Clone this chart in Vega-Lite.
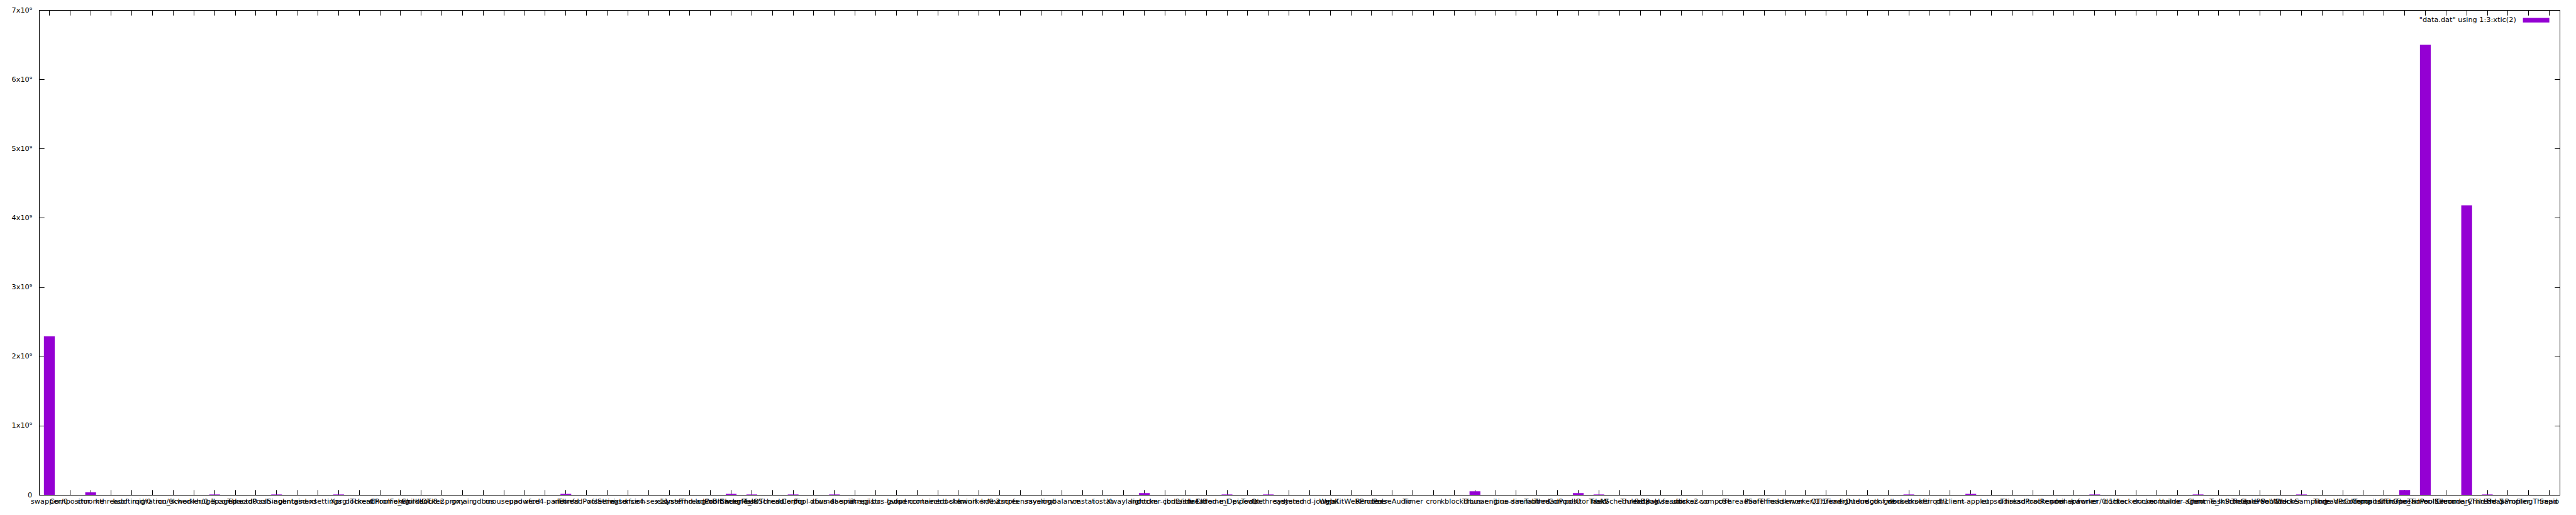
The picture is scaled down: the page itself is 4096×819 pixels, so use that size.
{
  "$schema": "https://vega.github.io/schema/vega-lite/v6.json",
  "width": 4008,
  "height": 771,
  "autosize": {"type": "none"},
  "padding": {"left": 62, "top": 16, "right": 26, "bottom": 32},
  "background": "white",
  "config": {
    "font": "DejaVu Sans",
    "view": {"stroke": "black", "strokeWidth": 1},
    "axis": {"grid": false, "domain": false, "tickColor": "black", "tickWidth": 1, "labelColor": "black", "labelFontSize": 11.3, "labelFont": "DejaVu Sans", "title": null}
  },
  "data": {
    "values": [
      {"idx": 1, "name": "swapper/0", "value": 2290000000},
      {"idx": 2, "name": "Compositor", "value": 0},
      {"idx": 3, "name": "chrome", "value": 37000000},
      {"idx": 4, "name": "kthreadd", "value": 0},
      {"idx": 5, "name": "ksoftirqd/0", "value": 0},
      {"idx": 6, "name": "migration/0", "value": 0},
      {"idx": 7, "name": "rcu_sched", "value": 0},
      {"idx": 8, "name": "kworker/0:1", "value": 0},
      {"idx": 9, "name": "khugepaged", "value": 6000000},
      {"idx": 10, "name": "kcompactd0", "value": 0},
      {"idx": 11, "name": "ThreadPoolSingl", "value": 0},
      {"idx": 12, "name": "ssh-agent", "value": 6000000},
      {"idx": 13, "name": "containerd", "value": 0},
      {"idx": 14, "name": "gsd-xsettings", "value": 0},
      {"idx": 15, "name": "Xorg", "value": 6000000},
      {"idx": 16, "name": "dockerd", "value": 0},
      {"idx": 17, "name": "ThreadPoolForeg", "value": 0},
      {"idx": 18, "name": "Chrome_ChildIOT", "value": 0},
      {"idx": 19, "name": "kworker/u8:2", "value": 0},
      {"idx": 20, "name": "docker-proxy", "value": 0},
      {"idx": 21, "name": "gmain", "value": 0},
      {"idx": 22, "name": "gdbus", "value": 0},
      {"idx": 23, "name": "mousepad", "value": 0},
      {"idx": 24, "name": "upowerd", "value": 0},
      {"idx": 25, "name": "xfce4-panel", "value": 0},
      {"idx": 26, "name": "xfconfd", "value": 15000000},
      {"idx": 27, "name": "ThreadPoolServi", "value": 0},
      {"idx": 28, "name": "xfsettingsd", "value": 0},
      {"idx": 29, "name": "extension", "value": 0},
      {"idx": 30, "name": "xfce4-session", "value": 0},
      {"idx": 31, "name": "x11-ssh", "value": 0},
      {"idx": 32, "name": "systemd-logind", "value": 0},
      {"idx": 33, "name": "ThreadPoolBackg", "value": 0},
      {"idx": 34, "name": "CrBrowserMain", "value": 15000000},
      {"idx": 35, "name": "Chrome_IOThread", "value": 6000000},
      {"idx": 36, "name": "TaskSchedulerFo", "value": 0},
      {"idx": 37, "name": "Config", "value": 6000000},
      {"idx": 38, "name": "pool-xfwm4", "value": 0},
      {"idx": 39, "name": "dbus-daemon", "value": 6000000},
      {"idx": 40, "name": "at-spi2-registr", "value": 0},
      {"idx": 41, "name": "at-spi-bus-laun", "value": 0},
      {"idx": 42, "name": "gvfsd", "value": 0},
      {"idx": 43, "name": "openconnect", "value": 0},
      {"idx": 44, "name": "containerd-shim", "value": 0},
      {"idx": 45, "name": "docker-init", "value": 0},
      {"idx": 46, "name": "kworker/0:2", "value": 0},
      {"idx": 47, "name": "kdevtmpfs", "value": 0},
      {"idx": 48, "name": "xscreensaver", "value": 0},
      {"idx": 49, "name": "rsyslogd", "value": 0},
      {"idx": 50, "name": "irqbalance", "value": 0},
      {"idx": 51, "name": "vmstat", "value": 0},
      {"idx": 52, "name": "iostat", "value": 0},
      {"idx": 53, "name": "Xwayland", "value": 0},
      {"idx": 54, "name": "lightdm", "value": 25000000},
      {"idx": 55, "name": "docker-containe", "value": 0},
      {"idx": 56, "name": "jbd2/sda1-8", "value": 0},
      {"idx": 57, "name": "threaded-ml", "value": 0},
      {"idx": 58, "name": "Chrome_DevTools", "value": 6000000},
      {"idx": 59, "name": "pipewire", "value": 0},
      {"idx": 60, "name": "Qt-thread", "value": 6000000},
      {"idx": 61, "name": "systemd", "value": 0},
      {"idx": 62, "name": "systemd-journal", "value": 0},
      {"idx": 63, "name": "gjs", "value": 0},
      {"idx": 64, "name": "WebKitWebProces", "value": 0},
      {"idx": 65, "name": "Renderer", "value": 0},
      {"idx": 66, "name": "PulseAudio", "value": 0},
      {"idx": 67, "name": "Timer", "value": 0},
      {"idx": 68, "name": "cron", "value": 0},
      {"idx": 69, "name": "kblockd", "value": 0},
      {"idx": 70, "name": "Thunar", "value": 52000000},
      {"idx": 71, "name": "ibus-engine-sim", "value": 0},
      {"idx": 72, "name": "ibus-daemon", "value": 0},
      {"idx": 73, "name": "Tabbed", "value": 0},
      {"idx": 74, "name": "ThreadPoolIO", "value": 0},
      {"idx": 75, "name": "CompositorTileW", "value": 25000000},
      {"idx": 76, "name": "hald", "value": 6000000},
      {"idx": 77, "name": "TaskSchedulerBa", "value": 0},
      {"idx": 78, "name": "ThreadPool", "value": 0},
      {"idx": 79, "name": "flatpak-session", "value": 0},
      {"idx": 80, "name": "gvfs-udisks2-vo", "value": 0},
      {"idx": 81, "name": "docker-compose", "value": 0},
      {"idx": 82, "name": "ctr", "value": 0},
      {"idx": 83, "name": "ThreadSafe", "value": 0},
      {"idx": 84, "name": "PoolThread", "value": 0},
      {"idx": 85, "name": "Forkserver", "value": 0},
      {"idx": 86, "name": "kworker/1:1", "value": 0},
      {"idx": 87, "name": "QThread", "value": 0},
      {"idx": 88, "name": "TimerQueue", "value": 0},
      {"idx": 89, "name": "lightdm-gtk-gre", "value": 0},
      {"idx": 90, "name": "dconf worker", "value": 0},
      {"idx": 91, "name": "dbus-broker", "value": 6000000},
      {"idx": 92, "name": "ksoftirqd/1", "value": 0},
      {"idx": 93, "name": "dhclient", "value": 0},
      {"idx": 94, "name": "nm-applet", "value": 15000000},
      {"idx": 95, "name": "cupsd", "value": 0},
      {"idx": 96, "name": "udisksd", "value": 0},
      {"idx": 97, "name": "ThreadPoolRender", "value": 0},
      {"idx": 98, "name": "tracker-miner-f", "value": 0},
      {"idx": 99, "name": "pool-spawner", "value": 0},
      {"idx": 100, "name": "kworker/0:1H", "value": 6000000},
      {"idx": 101, "name": "docker", "value": 0},
      {"idx": 102, "name": "docker-runc", "value": 0},
      {"idx": 103, "name": "docker-buildx", "value": 0},
      {"idx": 104, "name": "container-agent", "value": 0},
      {"idx": 105, "name": "runc", "value": 6000000},
      {"idx": 106, "name": "Chrome_InProcGp", "value": 0},
      {"idx": 107, "name": "TaskSchedulerSe", "value": 0},
      {"idx": 108, "name": "ThreadPoolWork", "value": 0},
      {"idx": 109, "name": "PoolWorker", "value": 0},
      {"idx": 110, "name": "StackSampling", "value": 6000000},
      {"idx": 111, "name": "node", "value": 0},
      {"idx": 112, "name": "ThreadPoolTemp", "value": 0},
      {"idx": 113, "name": "VizCompositorTh", "value": 0},
      {"idx": 114, "name": "CompositorGpuTh", "value": 0},
      {"idx": 115, "name": "Chrome_Timer", "value": 70000000},
      {"idx": 116, "name": "ThreadPoolExecu", "value": 6500000000},
      {"idx": 117, "name": "PoolSecondary", "value": 0},
      {"idx": 118, "name": "Chrome_ChildThr", "value": 4180000000},
      {"idx": 119, "name": "Thread-3", "value": 6000000},
      {"idx": 120, "name": "HeapProfiler", "value": 0},
      {"idx": 121, "name": "SamplingThread", "value": 0},
      {"idx": 122, "name": "Sapio", "value": 0}
    ]
  },
  "layer": [
    {
      "mark": {"type": "bar", "clip": false},
      "encoding": {
        "x": {
          "field": "name", "type": "nominal", "sort": null,
          "scale": {"paddingInner": 0.476, "paddingOuter": 0.238},
          "axis": {"orient": "bottom", "tickSize": -8.2, "labelAngle": 0, "labelOverlap": false, "labelBound": false, "labelFlush": false, "labelPadding": 12.7, "labelLimit": 400, "labelBaseline": "top"}
        },
        "y": {
          "field": "value", "type": "quantitative",
          "scale": {"domain": [0, 7000000000], "nice": false, "zero": true},
          "axis": {"orient": "left", "values": [0, 1000000000, 2000000000, 3000000000, 4000000000, 5000000000, 6000000000, 7000000000], "tickSize": -8.2, "labelPadding": 19.4, "labelExpr": "datum.value == 0 ? '0' : format(datum.value / 1e9, 'd') + 'x10⁹'"}
        },
        "color": {
          "datum": "\"data.dat\" using 1:3:xtic(2)",
          "type": "nominal",
          "scale": {"range": ["#9400d3"]},
          "legend": {
            "title": null, "orient": "none", "legendX": 3949.6, "legendY": -4.8, "padding": 0,
            "symbolType": "M-1,-0.174H1V0.174H-1Z", "symbolSize": 1764, "symbolStrokeWidth": 0,
            "labelAlign": "right", "labelOffset": -52.8, "labelFontSize": 11.3, "labelColor": "black", "labelFont": "DejaVu Sans", "labelLimit": 400
          }
        }
      }
    },
    {
      "mark": {"type": "bar", "opacity": 0},
      "encoding": {
        "x": {"field": "name", "type": "nominal", "sort": null, "axis": {"orient": "top", "tickSize": -8.2, "labels": false}},
        "y": {"field": "value", "type": "quantitative", "axis": {"orient": "right", "values": [0, 1000000000, 2000000000, 3000000000, 4000000000, 5000000000, 6000000000, 7000000000], "tickSize": -8.2, "labels": false}}
      }
    }
  ],
  "resolve": {"axis": {"x": "independent", "y": "independent"}}
}
